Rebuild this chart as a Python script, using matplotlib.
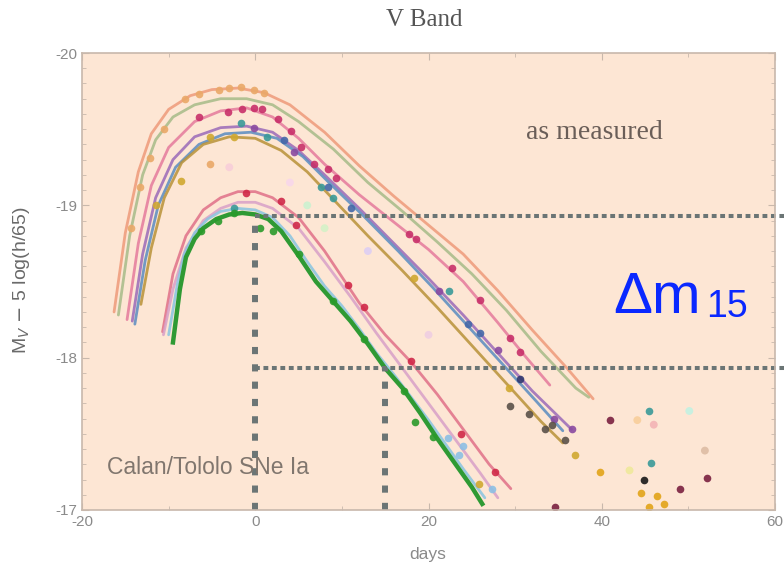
import numpy as np
import matplotlib
matplotlib.use("Agg")
import matplotlib.pyplot as plt
from matplotlib.ticker import MultipleLocator

plt.rcParams['axes.unicode_minus'] = False
plt.rcParams['font.family'] = ['Liberation Sans', 'DejaVu Sans']

#####################################################################
# Template light curves (day, M_V)
salmon_d = [-16.3, -15.0, -13.5, -12.0, -10.0, -7.5, -5.0, -2.0, 1.0, 4.0, 8.0, 12.0, 16.0, 20.0, 24.0, 28.0, 32.0, 36.0, 39.0]
salmon_m = [-18.30, -18.82, -19.22, -19.47, -19.63, -19.72, -19.76, -19.77, -19.74, -19.66, -19.48, -19.26, -19.06, -18.87, -18.68, -18.44, -18.18, -17.93, -17.73]

sage_d = [-15.8, -14.5, -13.0, -11.5, -9.5, -7.0, -4.0, -1.0, 2.0, 5.0, 9.0, 13.0, 17.0, 21.0, 25.0, 29.0, 33.0, 37.0, 38.5]
sage_m = [-18.28, -18.80, -19.20, -19.43, -19.58, -19.66, -19.70, -19.70, -19.66, -19.55, -19.37, -19.15, -18.96, -18.76, -18.55, -18.31, -18.04, -17.80, -17.74]

pink_d = [-14.8, -13.5, -12.0, -10.0, -7.0, -4.0, -1.0, 2.0, 5.0, 8.0, 12.0, 16.0, 20.0, 24.0, 28.0, 31.0, 34.0]
pink_m = [-18.25, -18.75, -19.13, -19.38, -19.55, -19.62, -19.64, -19.58, -19.44, -19.27, -19.07, -18.89, -18.71, -18.50, -18.23, -18.02, -17.82]

purple_d = [-14.2, -13.0, -11.5, -9.5, -7.0, -4.0, -1.0, 2.0, 5.0, 8.0, 12.0, 16.0, 20.0, 24.0, 28.0, 32.0, 36.5]
purple_m = [-18.24, -18.68, -19.05, -19.30, -19.45, -19.51, -19.52, -19.48, -19.36, -19.20, -18.98, -18.75, -18.52, -18.28, -18.03, -17.78, -17.53]

blue_d = [-13.9, -12.7, -11.2, -9.2, -6.5, -3.5, -0.5, 2.5, 5.5, 8.5, 12.5, 16.5, 20.5, 24.5, 28.5, 32.5, 35.5]
blue_m = [-18.22, -18.64, -19.00, -19.25, -19.40, -19.47, -19.48, -19.44, -19.32, -19.15, -18.93, -18.70, -18.46, -18.21, -17.96, -17.71, -17.52]

olive_d = [-13.2, -12.0, -10.5, -8.5, -6.0, -3.0, 0.0, 3.0, 6.0, 9.0, 13.0, 17.0, 21.0, 25.0, 29.0, 33.0, 35.5]
olive_m = [-18.35, -18.72, -19.05, -19.28, -19.40, -19.45, -19.44, -19.36, -19.22, -19.04, -18.80, -18.57, -18.33, -18.08, -17.83, -17.58, -17.44]

red_d = [-10.7, -9.5, -8.0, -6.0, -4.0, -2.0, 0.0, 2.0, 5.0, 8.0, 12.0, 15.0, 18.0, 21.0, 24.0, 27.0, 29.5]
red_m = [-18.17, -18.55, -18.80, -18.97, -19.05, -19.09, -19.09, -19.05, -18.92, -18.70, -18.36, -18.15, -17.97, -17.76, -17.53, -17.30, -17.14]

lilac_d = [-10.6, -9.5, -8.0, -6.0, -4.0, -2.0, 0.0, 2.0, 5.0, 8.0, 11.0, 14.0, 17.0, 20.0, 23.0, 26.0, 28.0]
lilac_m = [-18.15, -18.45, -18.72, -18.90, -18.98, -19.02, -19.02, -18.98, -18.85, -18.63, -18.40, -18.16, -17.93, -17.70, -17.47, -17.24, -17.08]

cyan_d = [-10.0, -9.0, -8.2, -7.0, -5.5, -4.0, -2.0, 0.0, 2.0, 4.0, 6.0, 8.0, 10.0, 12.0, 14.0, 16.0, 18.0, 20.0, 22.0, 24.0, 26.5]
cyan_m = [-18.15, -18.48, -18.68, -18.82, -18.91, -18.96, -18.98, -18.97, -18.92, -18.80, -18.63, -18.47, -18.34, -18.19, -18.03, -17.89, -17.74, -17.59, -17.43, -17.27, -17.08]

green_d = [-9.5, -8.7, -8.0, -7.0, -6.0, -4.5, -3.0, -1.5, 0.0, 1.5, 3.0, 5.0, 7.0, 9.0, 11.0, 13.0, 15.0, 17.0, 19.0, 21.0, 23.0, 25.0, 26.2]
green_m = [-18.10, -18.45, -18.66, -18.78, -18.85, -18.91, -18.94, -18.95, -18.94, -18.91, -18.83, -18.67, -18.50, -18.37, -18.24, -18.09, -17.93, -17.80, -17.64, -17.47, -17.31, -17.15, -17.04]

#####################################################################
# Photometry points (day, M_V) per supernova colour
orange_pd = [-8.1, -6.5, -4.2, -3.0, -1.7, -0.2, 1.0, -12.1, -13.3, -10.5, -5.2, -14.3]
orange_pm = [-19.70, -19.73, -19.76, -19.77, -19.78, -19.76, -19.74, -19.31, -19.12, -19.50, -19.27, -18.85]

magenta_pd = [-6.5, -3.2, -1.5, -0.2, 0.8, 2.6, 4.1, 5.3, 6.8, 8.4, 9.3, 17.7, 18.6, 22.7, 25.9, 29.4, 30.6]
magenta_pm = [-19.58, -19.61, -19.63, -19.64, -19.63, -19.57, -19.49, -19.38, -19.27, -19.24, -19.18, -18.81, -18.78, -18.59, -18.38, -18.13, -18.04]

red_pd = [-1.1, 3.0, 4.7, 10.7, 12.6, 18.0, 23.8, 27.7]
red_pm = [-19.08, -19.03, -18.87, -18.48, -18.33, -17.98, -17.50, -17.25]

teal_pd = [-1.7, 1.4, 7.6, 9.0, 22.4, -2.5, 45.5, 45.7]
teal_pm = [-19.54, -19.45, -19.12, -19.05, -18.44, -18.98, -17.65, -17.31]

blue_pd = [3.3, 8.4, 11.0, 24.5, 25.9]
blue_pm = [-19.43, -19.12, -18.98, -18.22, -18.16]

purple_pd = [-0.2, 4.5, 21.2, 28.0, 34.5, 36.6]
purple_pm = [-19.51, -19.35, -18.44, -18.05, -17.60, -17.53]

navy_pd = [30.6]
navy_pm = [-17.86]

olive_pd = [-11.5, -8.6, -5.2, -2.5, 18.3, 29.3, 36.9, 25.8]
olive_pm = [-19.00, -19.16, -19.45, -19.45, -18.52, -17.80, -17.36, -17.17]

gold_pd = [39.8, 44.5, 46.4, 47.2, 45.5]
gold_pm = [-17.25, -17.11, -17.09, -17.04, -17.02]

gray_pd = [29.4, 31.6, 33.4, 34.2, 35.8]
gray_pm = [-17.68, -17.63, -17.53, -17.56, -17.46]

black_pd = [44.9]
black_pm = [-17.20]

maroon_pd = [41.0, 49.0, 52.2, 34.6]
maroon_pm = [-17.59, -17.14, -17.21, -17.02]

green_pd = [-6.3, -4.3, -2.5, 0.6, 2.1, 5.0, 9.0, 12.5, 17.2, 18.4, 20.5]
green_pm = [-18.83, -18.90, -18.95, -18.85, -18.83, -18.68, -18.37, -18.12, -17.78, -17.58, -17.48]

ltblue_pd = [22.3, 23.5, 24.0, 27.3]
ltblue_pm = [-17.47, -17.36, -17.42, -17.14]

pale_pd = [46.0, 50.1, 44.1, 43.2, 51.9, 4.0, 8.0, -3.0, 13.0, 20.0, 6.0]
pale_pm = [-17.56, -17.65, -17.59, -17.26, -17.39, -19.15, -18.85, -19.25, -18.70, -18.15, -19.00]
pale_col = ['#f4b8b8', '#c8f0e0', '#f8d0a0', '#f0e8a0', '#e0c0a8', '#f8d8e8', '#d8f0c8', '#f8d0d8', '#e0d0f0', '#f0d0e0', '#d0f0d0']

# Delta m15 construction
peak_day = 0
day15 = 15
peak_mag = -18.93
mag15 = -17.93

#####################################################################
fig = plt.figure(figsize=(7.84, 5.72), dpi=100)
ax = fig.add_axes([0.1046, 0.1084, 0.884, 0.7989])
ax.set_facecolor('#fde6d4')

curves = [
    (salmon_d, salmon_m, '#ee9a7a'),
    (sage_d, sage_m, '#a6bb88'),
    (pink_d, pink_m, '#e57a9c'),
    (purple_d, purple_m, '#9a6ab8'),
    (blue_d, blue_m, '#5a8cc0'),
    (olive_d, olive_m, '#b89238'),
    (red_d, red_m, '#e07088'),
    (lilac_d, lilac_m, '#d8a0c8'),
    (cyan_d, cyan_m, '#88c4e0'),
]
for d, m, c in curves:
    ax.plot(d, m, color=c, lw=2.0, alpha=0.85, solid_capstyle='round')
ax.plot(green_d, green_m, color='#2f9a34', lw=3.2)

points = [
    (orange_pd, orange_pm, '#eaa868'),
    (magenta_pd, magenta_pm, '#c8306a'),
    (red_pd, red_pm, '#d02848'),
    (teal_pd, teal_pm, '#3a9a98'),
    (blue_pd, blue_pm, '#4468a8'),
    (purple_pd, purple_pm, '#8a4aa0'),
    (navy_pd, navy_pm, '#303870'),
    (olive_pd, olive_pm, '#d0a830'),
    (gold_pd, gold_pm, '#e2a418'),
    (gray_pd, gray_pm, '#5a5048'),
    (black_pd, black_pm, '#181818'),
    (maroon_pd, maroon_pm, '#7a2040'),
    (green_pd, green_pm, '#2a9a2a'),
    (ltblue_pd, ltblue_pm, '#8cc0e4'),
]
for d, m, c in points:
    ax.plot(d, m, 'o', color=c, ms=5.5, mec='none', alpha=0.9)
ax.scatter(pale_pd, pale_pm, s=32, c=pale_col, edgecolors='none')

# Delta m15 dotted guides
gline = '#6b7575'
ax.plot([peak_day, peak_day], [-17, peak_mag], color=gline, lw=4.3,
        ls=(0, (1.2, 1.7)), dash_capstyle='butt', clip_on=False)
ax.plot([day15, day15], [-17, mag15], color=gline, lw=4.3,
        ls=(0, (1.2, 1.7)), dash_capstyle='butt', clip_on=False)
ax.plot([peak_day, 61.2], [peak_mag, peak_mag], color=gline, lw=2.9,
        ls=(0, (1.2, 0.9)), dash_capstyle='butt', clip_on=False)
ax.plot([peak_day, 61.2], [mag15, mag15], color=gline, lw=2.9,
        ls=(0, (1.2, 0.9)), dash_capstyle='butt', clip_on=False)

ax.set_xlim(-20, 60)
ax.set_ylim(-17, -20)
ax.set_xticks([-20, 0, 20, 40, 60])
ax.set_yticks([-20, -19, -18, -17])
ax.xaxis.set_minor_locator(MultipleLocator(10))
ax.yaxis.set_minor_locator(MultipleLocator(0.1))
ax.tick_params(which='both', direction='in', top=True, right=True,
               colors='#c8b8ac', labelcolor='#8a8a8a', labelsize=11)
ax.tick_params(which='major', length=5)
ax.tick_params(which='minor', length=3)
for s in ax.spines.values():
    s.set_color('#c8b8ac')
    s.set_linewidth(1.2)

ax.text(0.74, 0.827, 'as measured', transform=ax.transAxes, ha='center', va='center',
        family='Liberation Serif', fontsize=20, color='#6a5e58')
ax.text(0.036, 0.092, 'Calan/Tololo SNe Ia', transform=ax.transAxes, ha='left', va='center',
        fontsize=16.5, color='#80766e')

fig.text(0.541, 0.965, 'V Band', ha='center', va='center', family='Liberation Serif',
         fontsize=18, color='#555555')
fig.text(0.545, 0.03, 'days', ha='center', va='center', fontsize=12.5, color='#8a8a8a')
fig.text(0.028, 0.51, r'M$_V$ $-$ 5 log(h/65)', rotation=90, ha='center', va='center',
         fontsize=14, color='#6a6a6a')

fig.text(0.782, 0.4528, '\u0394m', fontsize=42, color='#0a28ff', ha='left', va='baseline')
fig.text(0.9005, 0.4458, '15', fontsize=27, color='#0a28ff', ha='left', va='baseline')

fig.savefig('out.png', dpi=100, facecolor='white')
